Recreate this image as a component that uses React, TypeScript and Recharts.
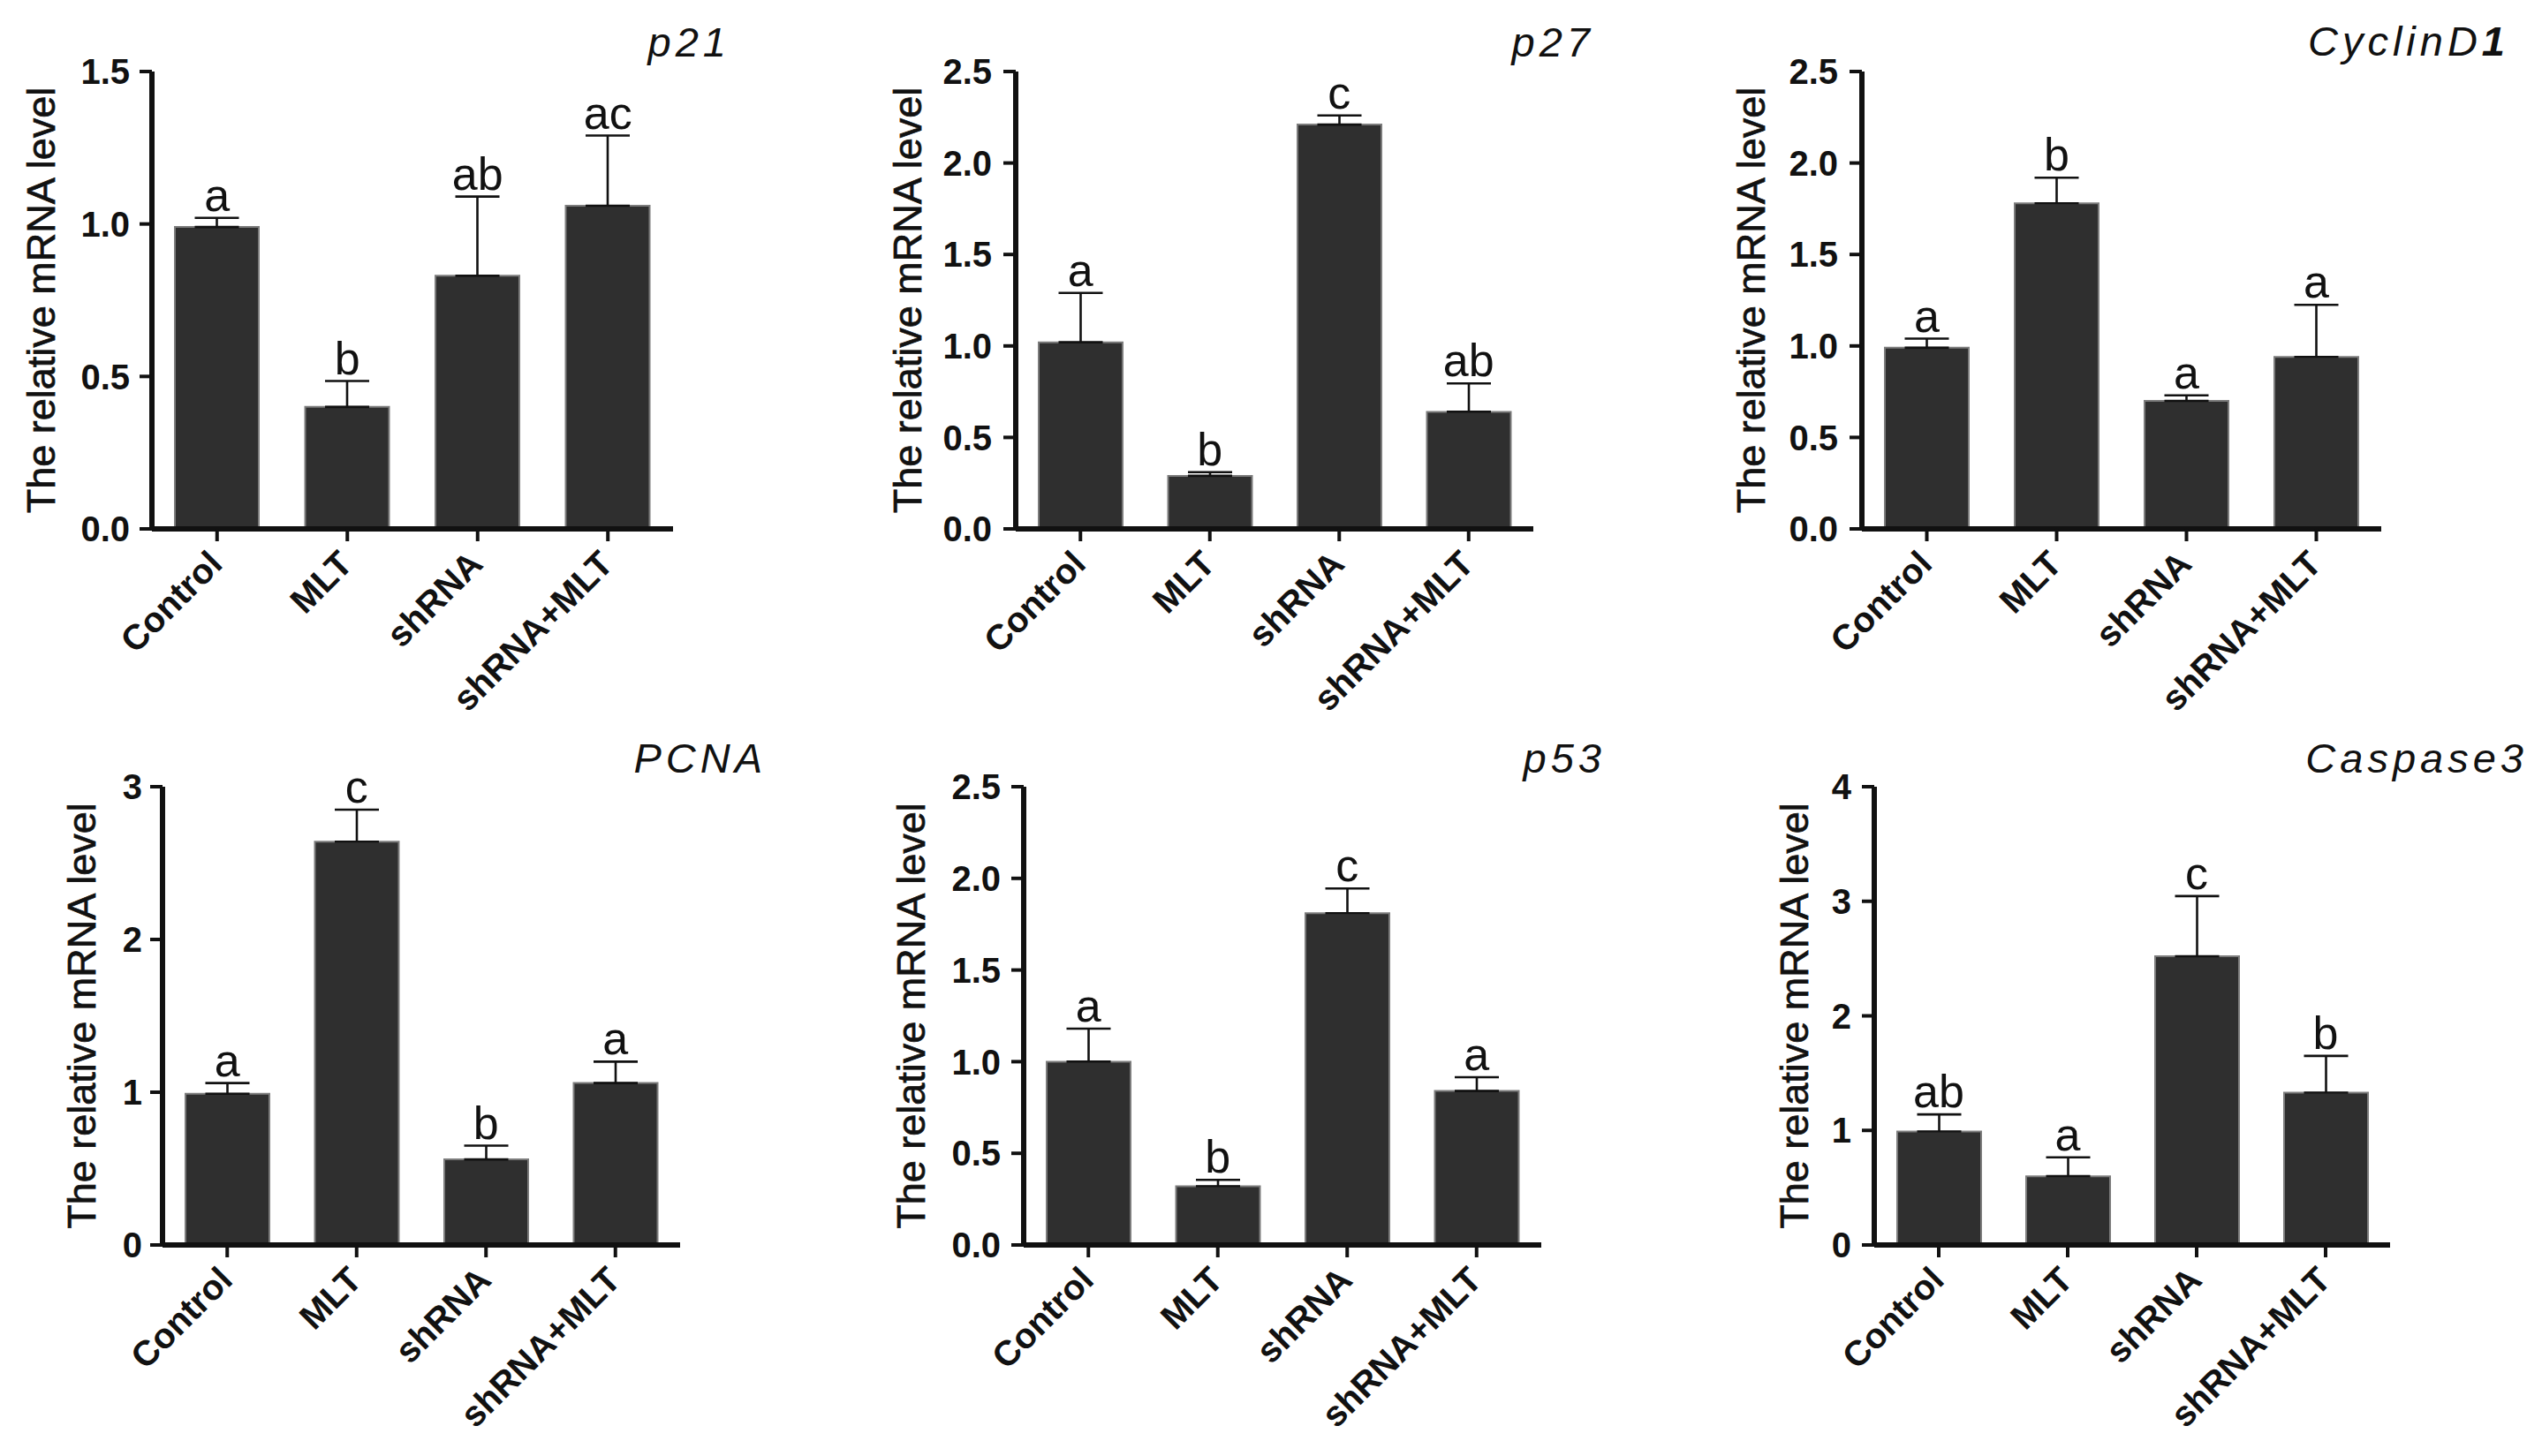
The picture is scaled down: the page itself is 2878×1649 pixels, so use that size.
import { ComposedChart, Bar, Line, XAxis, YAxis, ErrorBar, LabelList, Label } from 'recharts';

const FONT = '"Liberation Sans", Arial, Helvetica, sans-serif';
const INK = '#111111';
const BAR_FILL = '#2f2f2f';
const BAR_EDGE = '#7c7c7c';

const GROUPS = ['Control', 'MLT', 'shRNA', 'shRNA+MLT'];

// mean and upper SEM
const P21_MEAN = [0.99, 0.40, 0.83, 1.06];
const P21_SEM = [0.03, 0.085, 0.26, 0.23];
const P21_SIG = ['a', 'b', 'ab', 'ac'];
const P21_TICKS = [0, 0.5, 1, 1.5];

const P27_MEAN = [1.02, 0.29, 2.21, 0.64];
const P27_SEM = [0.27, 0.02, 0.05, 0.155];
const P27_SIG = ['a', 'b', 'c', 'ab'];
const P27_TICKS = [0, 0.5, 1, 1.5, 2, 2.5];

const CYCLIN_MEAN = [0.99, 1.78, 0.70, 0.94];
const CYCLIN_SEM = [0.05, 0.14, 0.03, 0.285];
const CYCLIN_SIG = ['a', 'b', 'a', 'a'];
const CYCLIN_TICKS = [0, 0.5, 1, 1.5, 2, 2.5];

const PCNA_MEAN = [0.99, 2.64, 0.56, 1.06];
const PCNA_SEM = [0.07, 0.21, 0.09, 0.14];
const PCNA_SIG = ['a', 'c', 'b', 'a'];
const PCNA_TICKS = [0, 1, 2, 3];

const P53_MEAN = [1.0, 0.32, 1.81, 0.84];
const P53_SEM = [0.18, 0.035, 0.135, 0.075];
const P53_SIG = ['a', 'b', 'c', 'a'];
const P53_TICKS = [0, 0.5, 1, 1.5, 2, 2.5];

const CASP_MEAN = [0.99, 0.60, 2.52, 1.33];
const CASP_SEM = [0.15, 0.165, 0.525, 0.32];
const CASP_SIG = ['ab', 'a', 'c', 'b'];
const CASP_TICKS = [0, 1, 2, 3, 4];

// page-pixel layout of each panel: chart box, plot area, text anchors
const PANELS = [
  { title: 'p21', mean: P21_MEAN, sem: P21_SEM, sig: P21_SIG, ticks: P21_TICKS, dec: 1,
    box: [0, 0, 940, 820], plot: [172, 81, 762, 599], tickRight: 147, labelX: 46, titleRight: 822, titleY: 64 },
  { title: 'p27', mean: P27_MEAN, sem: P27_SEM, sig: P27_SIG, ticks: P27_TICKS, dec: 1,
    box: [940, 0, 1900, 820], plot: [1150, 81, 1736, 599], tickRight: 1123, labelX: 1027, titleRight: 1800, titleY: 64 },
  { title: 'CyclinD1', mean: CYCLIN_MEAN, sem: CYCLIN_SEM, sig: CYCLIN_SIG, ticks: CYCLIN_TICKS, dec: 1,
    box: [1900, 0, 2878, 820], plot: [2108, 81, 2696, 599], tickRight: 2081, labelX: 1982, titleRight: 2836, titleY: 63 },
  { title: 'PCNA', mean: PCNA_MEAN, sem: PCNA_SEM, sig: PCNA_SIG, ticks: PCNA_TICKS, dec: 0,
    box: [0, 820, 940, 1649], plot: [184, 891, 770, 1410], tickRight: 161, labelX: 92, titleRight: 863, titleY: 875 },
  { title: 'p53', mean: P53_MEAN, sem: P53_SEM, sig: P53_SIG, ticks: P53_TICKS, dec: 1,
    box: [940, 820, 1900, 1649], plot: [1159, 891, 1745, 1410], tickRight: 1133, labelX: 1031, titleRight: 1813, titleY: 875 },
  { title: 'Caspase3', mean: CASP_MEAN, sem: CASP_SEM, sig: CASP_SIG, ticks: CASP_TICKS, dec: 0,
    box: [1900, 820, 2878, 1649], plot: [2122, 891, 2706, 1410], tickRight: 2096, labelX: 2031, titleRight: 2857, titleY: 875 },
];

function XTick(props: any) {
  const { x, y, payload } = props;
  const px = x + 8;
  const py = y + 28;
  return (
    <text
      x={px}
      y={py}
      transform={`rotate(-45 ${px} ${py})`}
      textAnchor="end"
      fontFamily={FONT}
      fontWeight={700}
      fontSize={40}
      fill={INK}
    >
      {payload.value}
    </text>
  );
}

function Panel({ cfg }: { cfg: any }) {
  const [bl, bt, br, bb] = cfg.box;
  const [pl, pt, pr, pb] = cfg.plot;
  const data = GROUPS.map((g, i) => ({
    group: g,
    mean: cfg.mean[i],
    err: [0, cfg.sem[i]],
    top: cfg.mean[i] + cfg.sem[i],
    sig: cfg.sig[i],
  }));
  const maxTick = cfg.ticks[cfg.ticks.length - 1];
  const lx = cfg.labelX - bl;
  const ly = (pt + pb) / 2 - bt;
  const title = cfg.title === 'CyclinD1'
    ? <><tspan>CyclinD</tspan><tspan fontWeight={700}>1</tspan></>
    : cfg.title;

  return (
    <div style={{ position: 'absolute', left: bl, top: bt }}>
      <ComposedChart
        width={br - bl}
        height={bb - bt}
        data={data}
        margin={{ top: pt - bt, right: br - pr, bottom: 0, left: 0 }}
      >
        <XAxis
          dataKey="group"
          height={bb - pb}
          interval={0}
          axisLine={{ stroke: INK, strokeWidth: 6 }}
          tickLine={{ stroke: INK, strokeWidth: 4 }}
          tickSize={14}
          tickMargin={0}
          tick={(p: any) => <XTick {...p} />}
        />
        <YAxis
          width={pl - bl}
          domain={[0, maxTick]}
          ticks={cfg.ticks}
          interval={0}
          axisLine={{ stroke: INK, strokeWidth: 6 }}
          tickLine={{ stroke: INK, strokeWidth: 4 }}
          tickSize={14}
          tickMargin={pl - cfg.tickRight - 14}
          tickFormatter={(v: number) => v.toFixed(cfg.dec)}
          tick={{ fill: INK, fontSize: 40, fontWeight: 700, fontFamily: FONT }}
        >
          <Label
            content={() => (
              <g>
                <text
                  x={lx}
                  y={ly}
                  dy="0.35em"
                  transform={`rotate(-90 ${lx} ${ly})`}
                  textAnchor="middle"
                  fontFamily={FONT}
                  fontSize={45}
                  fill={INK}
                  stroke={INK}
                  strokeWidth={0.7}
                >
                  The relative mRNA level
                </text>
                <text
                  x={cfg.titleRight - bl + 5}
                  y={cfg.titleY - bt}
                  textAnchor="end"
                  fontFamily={FONT}
                  fontStyle="italic"
                  fontSize={47}
                  letterSpacing={5}
                  fill={INK}
                >
                  {title}
                </text>
              </g>
            )}
          />
        </YAxis>
        <Bar dataKey="mean" barSize={95} fill={BAR_FILL} stroke={BAR_EDGE} strokeWidth={2} isAnimationActive={false}>
          <ErrorBar dataKey="err" direction="y" width={25} strokeWidth={2.6} stroke={INK} isAnimationActive={false} />
        </Bar>
        <Line dataKey="top" stroke="none" dot={false} activeDot={false} legendType="none" isAnimationActive={false}>
          <LabelList
            dataKey="sig"
            position="top"
            offset={8}
            fill={INK}
            fontSize={52}
            fontFamily={FONT}
          />
        </Line>
      </ComposedChart>
    </div>
  );
}

export default function App() {
  return (
    <div style={{ position: 'absolute', left: 0, top: 0, width: 2878, height: 1649, background: '#ffffff' }}>
      {PANELS.map((cfg) => (
        <Panel key={cfg.title} cfg={cfg} />
      ))}
    </div>
  );
}
